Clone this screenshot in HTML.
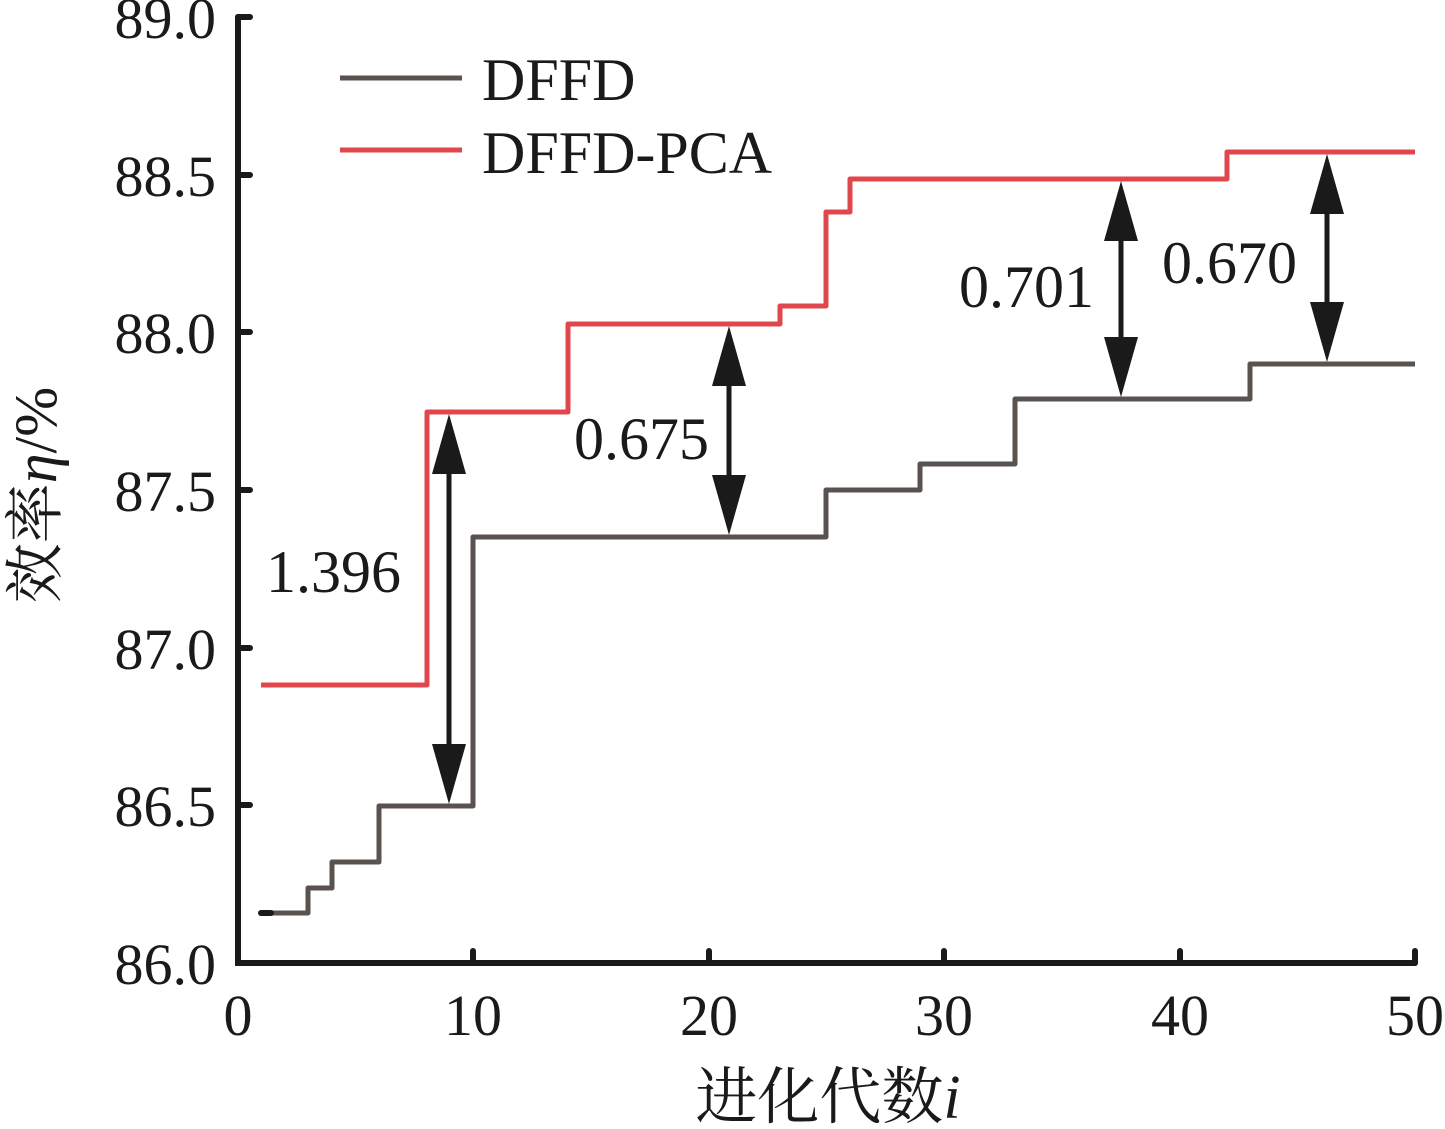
<!DOCTYPE html>
<html><head><meta charset="utf-8"><style>body{margin:0;background:#fff}svg{display:block}text{font-family:"Liberation Serif","Noto Serif CJK SC",serif;fill:#1a1a1a}</style></head>
<body>
<svg width="1445" height="1129" viewBox="0 0 1445 1129" xmlns="http://www.w3.org/2000/svg">
<g stroke="#1a1a1a" stroke-width="6" fill="none" stroke-linecap="round">
<path d="M238,17 L238,963 L1415,963"/>
<path d="M238,805 h12 M238,648 h12 M238,490 h12 M238,332 h12 M238,175 h12 M238,17 h12"/>
<path d="M473,963 v-12 M709,963 v-12 M944,963 v-12 M1180,963 v-12 M1415,963 v-12"/>
</g>
<g font-size="58" text-anchor="end">
<text x="216" y="984">86.0</text><text x="216" y="826">86.5</text><text x="216" y="669">87.0</text>
<text x="216" y="511">87.5</text><text x="216" y="353">88.0</text><text x="216" y="196">88.5</text><text x="216" y="38">89.0</text>
</g>
<g font-size="58" text-anchor="middle">
<text x="238" y="1035">0</text><text x="473" y="1035">10</text><text x="709" y="1035">20</text>
<text x="944" y="1035">30</text><text x="1180" y="1035">40</text><text x="1415" y="1035">50</text>
</g>
<text x="828" y="1118" font-size="62" text-anchor="middle">进化代数<tspan font-style="italic">i</tspan></text>
<text transform="translate(56,495) rotate(-90)" font-size="60" text-anchor="middle">效率<tspan font-style="italic">η</tspan>/%</text>
<g fill="none" stroke-width="5" stroke-linejoin="round">
<path stroke="#5a524f" d="M261,913 H308 V888 H332 V862 H379 V806 H473 V537 H826 V490 H920 V464 H1015 V399 H1250 V364 H1415"/>
<path stroke="#e0474c" d="M261,685 H427 V412 H568 V324 H780 V306 H826 V212 H850 V179 H1227 V152 H1415"/>
<path stroke="#5a524f" d="M340,78 H462"/>
<path stroke="#e0474c" d="M340,150 H462"/>
</g>
<path d="M261,913 h10" stroke="#1a1a1a" stroke-width="6" stroke-linecap="round"/>
<text x="482" y="100" font-size="60">DFFD</text>
<text x="482" y="173" font-size="60">DFFD-PCA</text>
<g stroke="#1a1a1a" stroke-width="5">
<line x1="449" y1="460" x2="449" y2="760"/>
<line x1="729" y1="370" x2="729" y2="490"/>
<line x1="1121" y1="225" x2="1121" y2="353"/>
<line x1="1327" y1="198" x2="1327" y2="318"/>
</g>
<g fill="#1a1a1a">
<path d="M449,414 L432,474 L466,474 Z M449,804 L432,744 L466,744 Z"/>
<path d="M729,326 L712,386 L746,386 Z M729,535 L712,475 L746,475 Z"/>
<path d="M1121,181 L1104,241 L1138,241 Z M1121,397 L1104,337 L1138,337 Z"/>
<path d="M1327,154 L1310,214 L1344,214 Z M1327,362 L1310,302 L1344,302 Z"/>
</g>
<g font-size="60">
<text x="266" y="592">1.396</text>
<text x="574" y="459">0.675</text>
<text x="959" y="307">0.701</text>
<text x="1162" y="283">0.670</text>
</g>
</svg>
</body></html>
